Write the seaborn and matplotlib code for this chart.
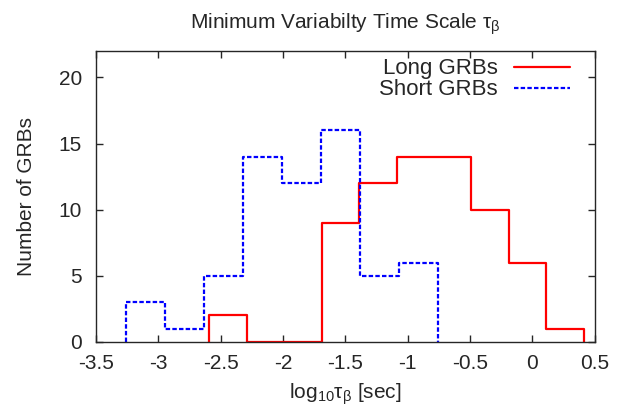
import numpy as np
import pandas as pd
import seaborn as sns
import matplotlib
matplotlib.use("Agg")
import matplotlib.pyplot as plt

# histogram bins
long_edges = np.linspace(-2.59, 0.41, 11)
long_counts = [2, 0, 0, 9, 12, 14, 14, 10, 6, 1]
short_edges = np.linspace(-3.26, -0.755, 9)
short_counts = [3, 1, 5, 14, 12, 16, 5, 6]

x_ticks = [-3.5, -3, -2.5, -2, -1.5, -1, -0.5, 0, 0.5]
y_ticks = [0, 5, 10, 15, 20]


def outline(edges, counts, label):
    # step outline that starts and ends on zero
    x = np.r_[edges[0], edges]
    y = np.r_[0, counts, 0]
    return pd.DataFrame({"x": x, "y": y, "set": label})


sns.set_style("ticks")
plt.rcParams["font.family"] = ["Liberation Sans", "DejaVu Sans"]
plt.rcParams["axes.unicode_minus"] = False
plt.rcParams["mathtext.default"] = "regular"
fs = 15

fig, ax = plt.subplots(figsize=(6.19, 4.08), dpi=100)
fig.subplots_adjust(left=0.155, right=0.961, top=0.875, bottom=0.162)

df_long = outline(long_edges, long_counts, "Long GRBs")
df_short = outline(short_edges, short_counts, "Short GRBs")

sns.lineplot(data=df_long, x="x", y="y", ax=ax, color="#ff0000", lw=1.6,
             drawstyle="steps-post", estimator=None, sort=False, label="Long GRBs")
sns.lineplot(data=df_short, x="x", y="y", ax=ax, color="#0000ff", lw=1.6,
             drawstyle="steps-post", estimator=None, sort=False,
             linestyle=(0, (2, 1)), label="Short GRBs")

ax.set_xlim(-3.5, 0.5)
ax.set_ylim(0, 22)
ax.set_xticks(x_ticks)
ax.set_xticklabels([f"{t:g}" for t in x_ticks])
ax.set_yticks(y_ticks)
ax.tick_params(direction="in", top=True, right=True, length=5, width=1, labelsize=fs)
ax.tick_params(axis="x", pad=9)
ax.tick_params(axis="y", pad=10)
for s in ax.spines.values():
    s.set_linewidth(1.0)

ax.set_title(r"Minimum Variabilty Time Scale $\tau_\beta$", fontsize=fs, pad=16)
ax.set_xlabel(r"log$_{10}\tau_\beta$ [sec]", fontsize=fs, labelpad=6)
ax.set_ylabel("Number of GRBs", fontsize=fs, labelpad=16)

ax.legend(loc="upper right", bbox_to_anchor=(0.972, 1.013), frameon=False,
          markerfirst=False, handlelength=2.5, fontsize=16, borderpad=0,
          labelspacing=0.0, handletextpad=0.75)

fig.savefig("out.png", dpi=100)
